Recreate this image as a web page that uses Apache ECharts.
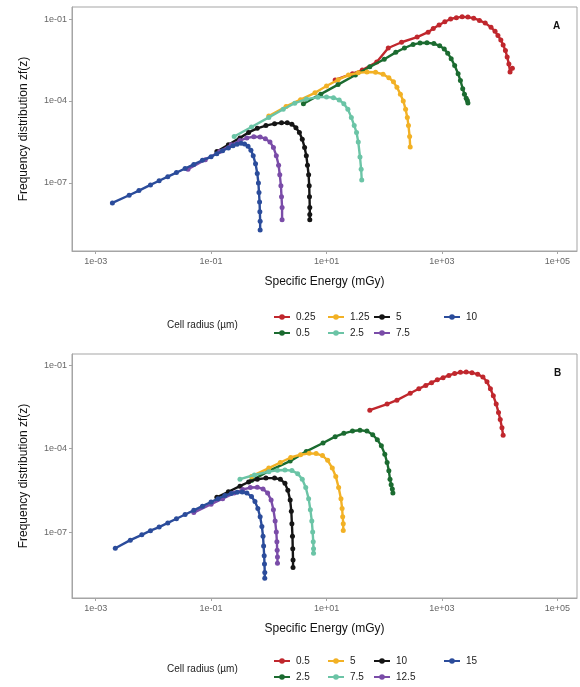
<!DOCTYPE html>
<html>
<head>
<meta charset="utf-8">
<script src="https://cdn.jsdelivr.net/npm/echarts@6/dist/echarts.min.js"></script>
<style>html,body{margin:0;padding:0;background:#fff;}#c{width:580px;height:687px;}</style>
</head>
<body>
<div id="c"></div>
<script>
// ---------- DATA (stored as log10 of the value) ----------
const xTickValues = [1e-3, 1e-1, 1e1, 1e3, 1e5];
const yTickValues = [1e-7, 1e-4, 1e-1];
const radiiA = ['0.25', '0.5', '1.25', '2.5', '5', '7.5', '10'];
const radiiB = ['0.5', '2.5', '5', '7.5', '10', '12.5', '15'];
const xTitle = 'Specific Energy (mGy)';
const yTitle = 'Frequency distribution zf(z)';
const legendTitle = 'Cell radius (\u00b5m)';

// Panel A  (log10 z , log10 zf(z))
const A_025_lz = [1.15, 1.45, 1.62, 1.87, 2.07, 2.3, 2.57, 2.76, 2.85, 2.95, 3.05, 3.15, 3.25, 3.35, 3.45, 3.55, 3.65, 3.75, 3.85, 3.92, 3.97, 4.02, 4.06, 4.1, 4.13, 4.16, 4.18, 4.22];
const A_025_lf = [-3.23, -3.0, -2.87, -2.57, -2.06, -1.85, -1.66, -1.48, -1.35, -1.22, -1.1, -1.0, -0.95, -0.92, -0.93, -0.97, -1.05, -1.15, -1.3, -1.45, -1.6, -1.77, -1.95, -2.15, -2.39, -2.65, -2.94, -2.8];
const A_05_lz = [0.6, 0.9, 1.2, 1.5, 1.75, 2.0, 2.2, 2.35, 2.5, 2.62, 2.74, 2.86, 2.96, 3.04, 3.1, 3.16, 3.22, 3.28, 3.32, 3.36, 3.39, 3.42, 3.44, 3.45];
const A_05_lf = [-4.1, -3.75, -3.4, -3.05, -2.75, -2.47, -2.22, -2.06, -1.93, -1.88, -1.87, -1.9, -1.98, -2.1, -2.25, -2.45, -2.7, -3.0, -3.25, -3.55, -3.75, -3.9, -3.98, -4.07];
const A_125_lz = [0.0, 0.3, 0.55, 0.8, 1.0, 1.2, 1.38, 1.55, 1.7, 1.85, 1.98, 2.08, 2.16, 2.22, 2.28, 2.33, 2.37, 2.4, 2.42, 2.44, 2.45];
const A_125_lf = [-4.55, -4.2, -3.95, -3.7, -3.45, -3.22, -3.05, -2.97, -2.94, -2.95, -3.02, -3.15, -3.3, -3.5, -3.75, -4.0, -4.3, -4.6, -4.9, -5.3, -5.68];
const A_25_lz = [-0.6, -0.3, 0.0, 0.25, 0.45, 0.65, 0.85, 1.0, 1.12, 1.22, 1.3, 1.37, 1.43, 1.48, 1.52, 1.55, 1.58, 1.6, 1.61];
const A_25_lf = [-5.3, -4.95, -4.6, -4.3, -4.08, -3.93, -3.86, -3.85, -3.88, -3.96, -4.1, -4.3, -4.6, -4.9, -5.15, -5.5, -6.05, -6.5, -6.89];
const A_5_lz = [-0.9, -0.7, -0.5, -0.35, -0.2, -0.05, 0.1, 0.22, 0.32, 0.4, 0.47, 0.53, 0.58, 0.62, 0.65, 0.67, 0.69, 0.7, 0.705, 0.71, 0.71, 0.71];
const A_5_lf = [-5.85, -5.6, -5.35, -5.15, -5.0, -4.9, -4.83, -4.8, -4.8, -4.85, -4.98, -5.15, -5.4, -5.7, -6.0, -6.35, -6.7, -7.1, -7.5, -7.9, -8.15, -8.35];
const A_75_lz = [-1.4, -1.1, -0.85, -0.65, -0.5, -0.38, -0.26, -0.15, -0.06, 0.02, 0.08, 0.13, 0.17, 0.19, 0.21, 0.22, 0.23, 0.23];
const A_75_lf = [-6.5, -6.15, -5.85, -5.6, -5.45, -5.35, -5.31, -5.32, -5.38, -5.5, -5.7, -6.0, -6.35, -6.7, -7.1, -7.5, -7.9, -8.35];
const A_10_lz = [-2.71, -2.42, -2.25, -2.05, -1.9, -1.75, -1.6, -1.45, -1.3, -1.15, -1.0, -0.9, -0.8, -0.7, -0.62, -0.55, -0.48, -0.42, -0.36, -0.31, -0.27, -0.23, -0.2, -0.18, -0.17, -0.16, -0.155, -0.15, -0.15];
const A_10_lf = [-7.73, -7.45, -7.28, -7.07, -6.92, -6.77, -6.62, -6.47, -6.32, -6.17, -6.04, -5.93, -5.82, -5.72, -5.64, -5.58, -5.55, -5.57, -5.66, -5.8, -6.0, -6.3, -6.65, -7.0, -7.35, -7.7, -8.05, -8.4, -8.72];

// Panel B
const B_05_lz = [1.75, 2.05, 2.22, 2.45, 2.6, 2.72, 2.82, 2.92, 3.02, 3.12, 3.22, 3.32, 3.42, 3.52, 3.62, 3.71, 3.78, 3.84, 3.89, 3.94, 3.98, 4.01, 4.04, 4.06];
const B_05_lf = [-2.62, -2.4, -2.26, -2.01, -1.85, -1.73, -1.63, -1.53, -1.45, -1.37, -1.3, -1.26, -1.25, -1.27, -1.33, -1.43, -1.6, -1.85, -2.1, -2.4, -2.7, -2.95, -3.25, -3.52];
const B_25_lz = [-0.3, 0.0, 0.37, 0.65, 0.94, 1.15, 1.3, 1.45, 1.58, 1.7, 1.8, 1.88, 1.95, 2.01, 2.05, 2.08, 2.1, 2.12, 2.14, 2.15];
const B_25_lf = [-5.15, -4.8, -4.45, -4.1, -3.8, -3.57, -3.45, -3.37, -3.34, -3.37, -3.5, -3.68, -3.9, -4.2, -4.5, -4.8, -5.1, -5.3, -5.45, -5.6];
const B_5_lz = [-0.3, 0.0, 0.2, 0.38, 0.55, 0.7, 0.82, 0.93, 1.02, 1.1, 1.16, 1.21, 1.25, 1.27, 1.28, 1.29, 1.29];
const B_5_lf = [-5.0, -4.7, -4.5, -4.32, -4.22, -4.17, -4.18, -4.25, -4.42, -4.7, -5.0, -5.4, -5.8, -6.15, -6.45, -6.7, -6.94];
const B_75_lz = [-0.5, -0.25, 0.0, 0.15, 0.28, 0.4, 0.5, 0.58, 0.64, 0.69, 0.72, 0.745, 0.76, 0.77, 0.775, 0.775];
const B_75_lf = [-5.1, -4.95, -4.83, -4.78, -4.77, -4.79, -4.9, -5.1, -5.4, -5.8, -6.2, -6.6, -7.0, -7.35, -7.6, -7.76];
const B_10_lz = [-0.9, -0.7, -0.5, -0.35, -0.2, -0.05, 0.1, 0.2, 0.28, 0.33, 0.37, 0.39, 0.4, 0.41, 0.415, 0.42, 0.42];
const B_10_lf = [-5.75, -5.55, -5.35, -5.2, -5.1, -5.06, -5.06, -5.1, -5.25, -5.5, -5.85, -6.25, -6.7, -7.15, -7.6, -8.0, -8.27];
const B_125_lz = [-1.3, -1.0, -0.8, -0.6, -0.45, -0.32, -0.2, -0.1, -0.02, 0.04, 0.08, 0.11, 0.13, 0.14, 0.145, 0.15, 0.15];
const B_125_lf = [-6.3, -6.0, -5.8, -5.6, -5.47, -5.4, -5.39, -5.45, -5.6, -5.85, -6.2, -6.6, -7.0, -7.35, -7.65, -7.9, -8.12];
const B_15_lz = [-2.66, -2.4, -2.2, -2.05, -1.9, -1.75, -1.6, -1.45, -1.3, -1.15, -1.0, -0.88, -0.76, -0.65, -0.55, -0.46, -0.38, -0.3, -0.24, -0.19, -0.15, -0.12, -0.1, -0.09, -0.08, -0.075, -0.07, -0.07];
const B_15_lf = [-7.58, -7.29, -7.1, -6.95, -6.82, -6.67, -6.52, -6.37, -6.22, -6.07, -5.92, -5.8, -5.69, -5.61, -5.57, -5.56, -5.6, -5.72, -5.9, -6.15, -6.45, -6.8, -7.15, -7.5, -7.85, -8.15, -8.45, -8.66];

// ---------- BUILD ----------
const colors = ['#C0272D', '#1B6B30', '#F2B125', '#6BC4A6', '#151515', '#7A4CA8', '#2B4C9B'];
const curvesA = [[A_025_lz, A_025_lf], [A_05_lz, A_05_lf], [A_125_lz, A_125_lf], [A_25_lz, A_25_lf], [A_5_lz, A_5_lf], [A_75_lz, A_75_lf], [A_10_lz, A_10_lf]];
const curvesB = [[B_05_lz, B_05_lf], [B_25_lz, B_25_lf], [B_5_lz, B_5_lf], [B_75_lz, B_75_lf], [B_10_lz, B_10_lf], [B_125_lz, B_125_lf], [B_15_lz, B_15_lf]];
const toPairs = (lz, lf) => lz.map((v, i) => [Math.pow(10, v), Math.pow(10, lf[i])]);

const FONT = 'Liberation Sans, Arial, sans-serif';
const fmt = v => {
  const e = Math.round(Math.log10(v));
  return '1e' + (e < 0 ? '-' : '+') + String(Math.abs(e)).padStart(2, '0');
};

function xAx(gi) {
  return {
    type: 'log', gridIndex: gi,
    min: Math.pow(10, -3.41), max: Math.pow(10, 5.34),
    name: xTitle, nameLocation: 'middle', nameGap: 25,
    nameTextStyle: { fontFamily: FONT, fontSize: 12, color: '#111' },
    axisLine: { show: true, lineStyle: { color: '#a5a5a5', width: 1 } },
    axisTick: { show: true, length: 3, lineStyle: { color: '#a5a5a5' }, customValues: xTickValues },
    axisLabel: { fontFamily: FONT, fontSize: 9, color: '#666', margin: 6, formatter: fmt, customValues: xTickValues },
    splitLine: { show: false }, minorTick: { show: false }
  };
}
function yAx(gi, lo, hi) {
  return {
    type: 'log', gridIndex: gi,
    min: Math.pow(10, lo), max: Math.pow(10, hi),
    name: yTitle, nameLocation: 'middle', nameGap: 42, nameRotate: 90,
    nameTextStyle: { fontFamily: FONT, fontSize: 12, color: '#111' },
    axisLine: { show: true, lineStyle: { color: '#a5a5a5', width: 1 } },
    axisTick: { show: true, length: 3, lineStyle: { color: '#a5a5a5' }, customValues: yTickValues },
    axisLabel: { fontFamily: FONT, fontSize: 9, color: '#666', margin: 5, formatter: fmt, customValues: yTickValues },
    splitLine: { show: false }, minorTick: { show: false }
  };
}

const series = [];
function addSeries(prefix, radii, curves, gi) {
  radii.forEach((r, i) => {
    series.push({
      name: prefix + ' ' + r,
      type: 'line', xAxisIndex: gi, yAxisIndex: gi,
      data: toPairs(curves[i][0], curves[i][1]),
      symbol: 'circle', symbolSize: 5, showSymbol: true,
      lineStyle: { width: 2.4, color: colors[i] },
      itemStyle: { color: colors[i] },
      z: 2 + i, animation: false, silent: true
    });
  });
}
addSeries('A', radiiA, curvesA, 0);
addSeries('B', radiiB, curvesB, 1);

const colX = [273, 327, 373, 443];
const legends = [];
function addLegend(prefix, radii, rowY) {
  radii.forEach((r, i) => {
    const col = Math.floor(i / 2), row = i % 2;
    legends.push({
      data: [prefix + ' ' + r], left: colX[col], top: rowY[row] - 6,
      itemWidth: 16, itemHeight: 7, itemGap: 4, padding: 0, selectedMode: false,
      formatter: n => n.slice(2),
      textStyle: { fontFamily: FONT, fontSize: 10, color: '#222', padding: [0, 0, 0, 1] }
    });
  });
}
addLegend('A', radiiA, [318, 334]);
addLegend('B', radiiB, [662, 678]);

const option = {
  backgroundColor: '#fff',
  animation: false,
  grid: [
    { left: 72, top: 7, width: 505, height: 244, show: true, borderColor: '#a5a5a5', borderWidth: 1, containLabel: false },
    { left: 72, top: 354, width: 505, height: 244, show: true, borderColor: '#a5a5a5', borderWidth: 1, containLabel: false }
  ],
  xAxis: [xAx(0), xAx(1)],
  yAxis: [yAx(0, -9.49, -0.56), yAx(1, -9.37, -0.6)],
  legend: legends,
  graphic: [
    { type: 'text', left: 167, top: 320, style: { text: legendTitle, font: '10px ' + FONT, fill: '#222' } },
    { type: 'text', left: 167, top: 664, style: { text: legendTitle, font: '10px ' + FONT, fill: '#222' } },
    { type: 'text', left: 553, top: 21, style: { text: 'A', font: 'bold 10px ' + FONT, fill: '#111' } },
    { type: 'text', left: 554, top: 368, style: { text: 'B', font: 'bold 10px ' + FONT, fill: '#111' } }
  ],
  series: series
};
const chart = echarts.init(document.getElementById('c'), null, { renderer: 'canvas' });
chart.setOption(option);
</script>
</body>
</html>
